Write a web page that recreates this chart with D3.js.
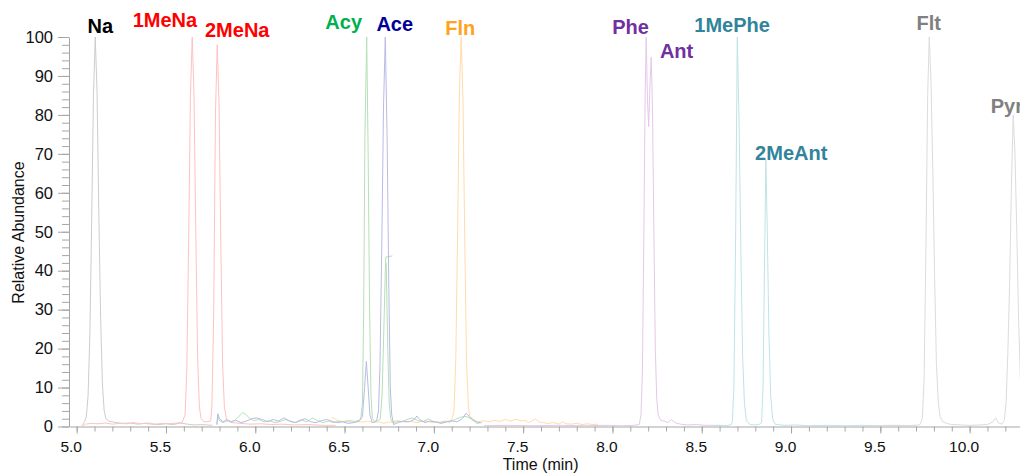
<!DOCTYPE html>
<html>
<head>
<meta charset="utf-8">
<script src="https://cdn.jsdelivr.net/npm/d3@7"></script>
<style>
  body { margin: 0; background: #fff; }
  #chart svg { display: block; overflow: hidden; }
  .axis path, .axis line { stroke: #a6a6a6; }
  .axis text { font-family: "Liberation Sans", Arial, sans-serif; font-size: 15.5px; fill: #111; }
  .axis.y text { font-size: 16.5px; }
  .title { font-family: "Liberation Sans", Arial, sans-serif; font-size: 16px; fill: #111; }
  .peak-label { font-family: "Liberation Sans", Arial, sans-serif; font-size: 20px; font-weight: bold; }
</style>
</head>
<body>
<div id="chart"></div>
<script>
// chromatogram traces, [time (min), relative abundance]
var naTrace = [[5.030,0.2],[5.044,1.2],[5.054,2.5],[5.064,8],[5.074,24],[5.084,53],[5.094,85],[5.104,100],[5.114,86],
  [5.124,55],[5.134,28],[5.144,11],[5.154,4],[5.164,2],[5.18,1.4],[5.22,1.0],[5.26,0.8],[5.30,0.9],[5.34,0.6],[5.38,0.8],
  [5.42,0.6],[5.46,0.5],[5.50,0.7],[5.54,0.5],[5.58,0.9],[5.62,0.6],[5.66,0.4],[5.70,0.5],[5.76,0.3]];

var meNaTrace = [[5.030,0],[5.05,0.6],[5.08,0.8],[5.12,0.7],[5.16,0.9],[5.20,0.6],[5.24,0.8],[5.28,0.7],[5.32,1.0],[5.36,0.7],
  [5.40,0.9],[5.44,0.6],[5.48,0.8],[5.52,0.7],[5.56,0.9],[5.59,1.0],[5.607,3],[5.617,15],[5.627,48],[5.637,85],[5.647,100],
  [5.657,85],[5.667,50],[5.677,18],[5.687,5],[5.697,2],[5.71,1.3],[5.73,1.2],[5.75,1.4],[5.757,5],[5.767,28],[5.777,80],
  [5.787,98],[5.797,83],[5.807,47],[5.817,16],[5.827,5],[5.84,1.6],[5.87,1.0],[5.92,0.8],[5.97,0.6],[6.03,0.7],[6.09,0.5],
  [6.15,0.6],[6.22,0.4],[6.30,0.5],[6.38,0.3],[6.45,0.3]];

var acyTrace = [[5.785,0.5],[5.79,2.5],[5.80,1.5],[5.82,1.0],[5.85,1.6],[5.87,1.0],[5.90,2.2],[5.93,3.6],[5.95,3.0],[5.97,2.0],
  [5.99,1.5],[6.02,1.8],[6.05,1.2],[6.08,1.5],[6.11,1.0],[6.14,1.3],[6.17,1.8],[6.20,1.2],[6.23,1.0],[6.26,1.6],[6.29,1.2],
  [6.32,2.2],[6.35,1.5],[6.38,1.0],[6.41,1.4],[6.44,1.0],[6.47,1.4],[6.50,1.2],[6.53,1.5],[6.56,1.3],[6.59,1.8],[6.600,6],
  [6.607,30],[6.614,75],[6.624,100],[6.632,70],[6.640,30],[6.648,8],[6.656,2],[6.67,1.2],[6.69,1.5],[6.70,2],[6.71,8],
  [6.72,25],[6.728,40],[6.731,43.5],[6.768,43.8],null,[6.733,42],[6.742,20],[6.750,6],[6.758,2],[6.77,1.0],[6.79,1.5],
  [6.82,1.2],[6.85,1.8],[6.88,2.2],[6.91,1.5],[6.94,1.3],[6.97,1.9],[7.00,1.2],[7.03,1.0],[7.06,1.4],[7.09,1.1],[7.12,1.8],
  [7.15,2.4],[7.18,2.6],[7.21,2.0],[7.24,0.8],[7.27,1.0]];

var aceTrace = [[5.785,0.5],[5.79,3.3],[5.80,2.0],[5.82,1.2],[5.84,1.8],[5.86,1.2],[5.89,1.6],[5.92,1.0],[5.95,1.4],[5.98,2.0],
  [6.01,2.2],[6.04,1.8],[6.07,1.2],[6.10,1.8],[6.13,1.4],[6.16,2.2],[6.19,1.5],[6.22,1.0],[6.25,1.6],[6.28,2.0],[6.31,1.2],
  [6.34,1.0],[6.37,1.5],[6.40,1.8],[6.43,1.3],[6.46,1.0],[6.49,1.2],[6.52,0.8],[6.55,1.0],[6.58,1.3],[6.60,2.5],[6.612,10],
  [6.622,16.7],[6.632,10],[6.642,3],[6.655,1.0],[6.668,1.2],[6.68,1.6],[6.69,4],[6.698,15],[6.708,45],[6.718,82],[6.728,100],
  [6.738,75],[6.748,35],[6.756,10],[6.764,3],[6.775,0.5],[6.80,1.0],[6.83,1.4],[6.86,1.2],[6.89,1.8],[6.905,2.7],[6.92,1.8],
  [6.95,1.0],[6.98,1.4],[7.01,1.2],[7.04,0.8],[7.07,1.2],[7.10,1.5],[7.13,1.2],[7.16,2.0],[7.18,3.4],[7.20,2.5],[7.22,1.8],
  [7.24,1.2],[7.26,1.0]];

var flnTrace = [[6.43,2.4],[6.45,1.8],[6.48,1.2],[6.51,1.5],[6.54,1.0],[6.57,1.3],[6.60,1.1],[6.63,1.4],[6.66,1.0],[6.69,1.2],
  [6.72,0.8],[6.75,1.2],[6.78,1.0],[6.81,1.4],[6.84,1.1],[6.87,1.3],[6.90,1.0],[6.93,1.2],[6.96,1.4],[6.99,1.0],[7.02,1.2],
  [7.05,0.9],[7.08,1.3],[7.10,1.6],[7.113,4],[7.123,18],[7.133,50],[7.143,86],[7.153,100],[7.163,84],[7.173,48],[7.183,17],
  [7.193,5],[7.203,2],[7.22,1.4],[7.25,1.2],[7.28,1.5],[7.31,1.2],[7.34,1.6],[7.37,1.3],[7.40,1.8],[7.43,1.4],[7.46,1.9],
  [7.49,1.4],[7.51,1.6],[7.53,1.0],[7.55,1.5],[7.57,1.9],[7.59,1.2],[7.61,1.0],[7.64,0.8],[7.67,1.0],[7.70,0.6],[7.72,1.2],
  [7.74,0.7],[7.77,0.6],[7.80,0.8],[7.83,0.5],[7.86,0.7],[7.89,0.5],[7.92,0.6]];

var pheAntTrace = [[7.28,0.2],[7.40,0.3],[7.55,0.2],[7.70,0.3],[7.85,0.2],[7.98,0.3],[8.05,0.2],[8.12,0.3],[8.15,0.5],[8.160,3],
  [8.168,15],[8.176,50],[8.183,85],[8.189,100],[8.196,84],[8.203,77],[8.210,88],[8.217,94.8],[8.224,82],[8.232,50],[8.240,20],
  [8.248,7],[8.256,3],[8.27,1.6],[8.29,1.4],[8.31,1.0],[8.33,1.8],[8.35,1.0],[8.38,0.6],[8.42,0.4],[8.47,0.5],[8.52,0.3],
  [8.58,0.3],[8.65,0.2]];

var mePheTrace = [[8.55,0.2],[8.60,0.3],[8.64,0.2],[8.665,0.5],[8.671,1],[8.680,10],[8.690,50],[8.699,100],[8.709,78],[8.719,45],
  [8.729,18],[8.739,6],[8.750,1.5],[8.77,0.5],[8.80,0.4],[8.825,0.6],[8.835,1],[8.843,10],[8.851,40],[8.859,68.5],[8.867,50],
  [8.876,24],[8.886,8],[8.897,2],[8.91,0.6],[8.96,0.3],[9.02,0.4],[9.10,0.2],[9.20,0.3],[9.30,0.2],[9.40,0.3],[9.50,0.2],
  [9.60,0.3],[9.70,0.2]];

var fltPyrTrace = [[9.45,0.2],[9.55,0.3],[9.65,0.2],[9.72,0.4],[9.735,2],[9.745,12],[9.755,45],[9.765,85],[9.774,100],[9.784,88],
  [9.794,65],[9.804,38],[9.814,16],[9.825,6],[9.835,2.5],[9.85,1.2],[9.87,0.8],[9.90,0.5],[9.95,0.4],[10.00,0.3],[10.05,0.4],
  [10.10,0.5],[10.13,1.2],[10.145,2.2],[10.16,1.0],[10.18,0.6],[10.194,1.5],[10.204,6],[10.214,19],[10.224,37],[10.234,62],
  [10.244,80],[10.254,70],[10.264,50],[10.274,28],[10.284,12],[10.294,4]];

// peak names and where each name sits, in data units
var peakNames = ["Na", "1MeNa", "2MeNa", "Acy", "Ace", "Fln", "Phe", "Ant", "1MePhe", "2MeAnt", "Flt", "Pyr"];
var labelTimes = [5.132, 5.494, 5.899, 6.495, 6.781, 7.148, 8.101, 8.359, 8.670, 9.001, 9.771, 10.118];
var labelLevels = [100.9, 102.6, 99.9, 102.0, 101.6, 100.5, 100.8, 94.5, 101.2, 68.4, 101.8, 80.4];

var xTickValues = [5.0, 5.5, 6.0, 6.5, 7.0, 7.5, 8.0, 8.5, 9.0, 9.5, 10.0];
var yTickValues = [0, 10, 20, 30, 40, 50, 60, 70, 80, 90, 100];

var width = 1020, height = 475;
var plot = {left: 69, right: 1020, top: 37, bottom: 426.5};

var svg = d3.select('#chart').append('svg')
    .attr('width', width)
    .attr('height', height);

var xScale = d3.scaleLinear()
    .domain([4.957, 10.282])
    .range([plot.left, plot.right]);

var yScale = d3.scaleLinear()
    .domain([0, 100])
    .range([plot.bottom, plot.top]);

// minor ticks first so the labelled ticks sit on top
svg.append('g')
    .attr('class', 'axis')
    .attr('transform', `translate(0,${plot.bottom})`)
    .call(d3.axisBottom(xScale).tickValues(d3.range(50, 103).map(d => d / 10)).tickSize(5).tickFormat(''))
    .select('.domain').remove();

svg.append('g')
    .attr('class', 'axis')
    .attr('transform', `translate(${plot.left},0)`)
    .call(d3.axisLeft(yScale).tickValues(d3.range(0, 101, 2)).tickSize(7).tickFormat(''))
    .select('.domain').remove();

svg.append('g')
    .attr('class', 'axis x')
    .attr('transform', `translate(0,${plot.bottom})`)
    .call(d3.axisBottom(xScale).tickValues(xTickValues).tickSize(7).tickPadding(7.5).tickSizeOuter(0)
      .tickFormat(d3.format('.1f')))
    .selectAll('text')
    .attr('dx', -6);

svg.append('g')
    .attr('class', 'axis y')
    .attr('transform', `translate(${plot.left},0)`)
    .call(d3.axisLeft(yScale).tickValues(yTickValues).tickSize(11).tickPadding(5).tickSizeOuter(0));

svg.append('text')
    .attr('class', 'title')
    .attr('transform', 'translate(24,232.5) rotate(-90)')
    .attr('text-anchor', 'middle')
    .text('Relative Abundance');

svg.append('text')
    .attr('class', 'title')
    .attr('x', 502.7)
    .attr('y', 470)
    .text('Time (min)');

var traces = [
  {data: naTrace, color: '#cdcdcd'},
  {data: meNaTrace, color: '#ffc2c2'},
  {data: flnTrace, color: '#ffdcab'},
  {data: acyTrace, color: '#b6e0b6'},
  {data: aceTrace, color: '#babae8'},
  {data: pheAntTrace, color: '#e6c8ea'},
  {data: mePheTrace, color: '#c0e3e7'},
  {data: fltPyrTrace, color: '#dcdcdc'}
];

var line = d3.line()
    .defined(d => d != null)
    .x(d => xScale(d[0]))
    .y(d => yScale(d[1]));

svg.append('g')
    .selectAll('path')
    .data(traces)
    .enter()
    .append('path')
    .attr('d', d => line(d.data))
    .attr('fill', 'none')
    .attr('stroke', d => d.color)
    .attr('stroke-width', 1);

var labelColors = ['#000000', '#ff0000', '#ff0000', '#00b050', '#000099', '#ffa21c',
                   '#7030a0', '#7030a0', '#31849b', '#31849b', '#808080', '#808080'];

svg.append('g')
    .selectAll('text')
    .data(peakNames)
    .enter()
    .append('text')
    .attr('class', 'peak-label')
    .attr('x', (d, i) => xScale(labelTimes[i]))
    .attr('y', (d, i) => yScale(labelLevels[i]))
    .attr('text-anchor', d => d == 'Pyr' ? 'start' : 'middle')
    .attr('fill', (d, i) => labelColors[i])
    .text(d => d);
</script>
</body>
</html>
